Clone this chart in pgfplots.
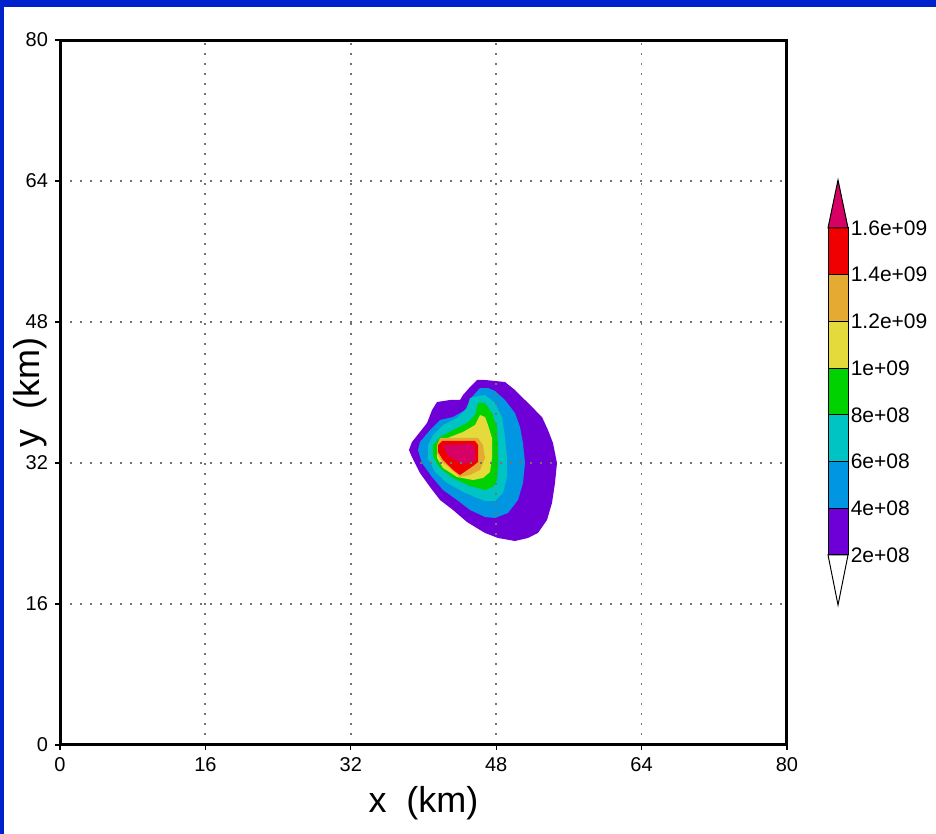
\documentclass[border=0pt]{standalone}
\usepackage{pgfplots}
\pgfplotsset{compat=1.18}
\usepackage{fontspec}
\setmainfont{Liberation Sans}

\definecolor{frameblue}{RGB}{0,34,204}
\definecolor{cmag}{RGB}{215,0,100}
\definecolor{cred}{RGB}{240,0,0}
\definecolor{corange}{RGB}{228,170,50}
\definecolor{cyellow}{RGB}{228,218,60}
\definecolor{cgreen}{RGB}{0,210,0}
\definecolor{ccyan}{RGB}{0,195,195}
\definecolor{cblue}{RGB}{0,150,225}
\definecolor{cpurple}{RGB}{110,0,215}

\begin{document}
\begin{tikzpicture}
\fill[white] (0,0) rectangle (468pt,417pt);
\fill[frameblue] (0,413.5pt) rectangle (468pt,417pt);
\fill[frameblue] (0,0) rectangle (2pt,417pt);

\begin{axis}[
    at={(30pt,44.5pt)}, anchor=south west,
    scale only axis, width=363.5pt, height=352.5pt,
    xmin=0, xmax=80, ymin=0, ymax=80,
    xtick={0,16,...,80}, ytick={0,16,...,80},
    xtick pos=left, ytick pos=left,
    tick align=outside, major tick length=2.5pt,
    tick style={black, line width=0.6pt},
    axis line style={line width=1.5pt},
    grid=major,
    grid style={black!55, line width=0.9pt, dash pattern=on 0.9pt off 4.1pt},
    axis on top,
    /pgf/number format/assume math mode=true,
    ticklabel style={font=\fontsize{10}{11}\selectfont},
    xlabel={x\ \ (km)}, ylabel={y\ \ (km)},
    label style={font=\fontsize{18}{20}\selectfont},
    xlabel style={at={(axis description cs:0.5,-0.082)}, anchor=center},
    ylabel style={at={(axis description cs:-0.041,0.5)}, anchor=center},
    mark=none,
]
% > 2e8
\addplot[fill=cpurple, draw=none] coordinates {
(45.89,41.42) (46.77,41.42) (48.97,41.19) (50.07,40.28) (51.50,38.81)
(53.04,37.22) (53.70,35.74) (54.25,34.27) (54.69,32.00) (54.47,29.73)
(54.14,27.46) (53.59,25.53) (52.60,24.06) (51.50,23.49) (50.07,23.15)
(48.20,23.49) (46.77,24.06) (46.22,24.40) (44.79,25.30) (43.25,26.67)
(41.82,27.80) (40.72,29.28) (39.61,30.87) (38.73,32.68) (38.40,33.48)
(38.73,34.38) (39.61,35.52) (40.39,36.54) (40.94,38.01) (41.49,38.92)
(42.92,39.15) (44.02,39.15) (44.35,39.72) (45.12,40.62)} -- cycle;
% > 4e8
\addplot[fill=cblue, draw=none] coordinates {
(46.22,40.51) (47.10,40.51) (47.87,40.17) (48.97,39.15) (50.07,37.67)
(50.62,36.09) (50.95,34.27) (51.17,32.00) (50.95,29.73) (50.40,27.80)
(49.30,26.33) (47.87,25.76) (46.77,25.87) (45.12,26.67) (43.69,27.80)
(42.15,28.94) (40.94,30.41) (39.83,32.00) (39.39,33.48) (39.61,34.38)
(40.72,35.74) (41.82,36.88) (43.25,37.22) (44.57,38.01) (45.34,39.49)} -- cycle;
% > 6e8
\addplot[fill=ccyan, draw=none] coordinates {
(45.12,39.38) (46.00,39.60) (46.77,39.72) (47.87,38.81) (48.64,37.22)
(48.97,34.95) (49.19,32.68) (49.19,30.41) (48.75,28.60) (47.87,27.69)
(46.77,27.69) (45.67,28.14) (44.35,28.71) (42.59,29.73) (41.27,30.98)
(40.50,32.57) (40.50,34.04) (41.05,35.18) (42.15,36.31) (43.69,37.11)
(44.79,38.24)} -- cycle;
% > 8e8
\addplot[fill=cgreen, draw=none] coordinates {
(46.00,38.81) (46.77,38.81) (47.54,37.67) (48.09,36.09) (48.20,33.82)
(48.20,31.55) (48.09,30.07) (47.65,29.28) (46.77,28.94) (45.12,29.39)
(43.25,30.30) (41.82,31.43) (41.05,32.68) (41.05,34.04) (41.82,34.95)
(43.25,35.74) (44.79,36.54) (45.67,37.45)} -- cycle;
% > 1e9
\addplot[fill=cyellow, draw=none] coordinates {
(46.22,37.45) (46.77,37.22) (47.10,36.31) (47.54,34.84) (47.54,32.57)
(47.32,30.98) (46.55,30.30) (45.45,30.07) (43.69,30.41) (42.15,31.43)
(41.49,32.57) (41.49,33.70) (41.82,34.38) (42.92,34.95) (44.35,35.52)
(45.67,36.31)} -- cycle;
% > 1.2e9
\addplot[fill=corange, draw=none] coordinates {
(41.82,34.84) (46.00,34.84) (46.55,34.04) (46.77,32.57) (46.22,31.21)
(45.12,30.64) (44.02,30.41) (42.92,31.43) (42.04,32.11) (41.49,33.13)
(41.49,34.04)} -- cycle;
% > 1.4e9
\addplot[fill=cred, draw=none] coordinates {
(42.04,34.50) (45.67,34.50) (46.00,34.04) (46.00,32.11) (45.45,31.66)
(44.02,30.64) (43.25,31.21) (42.15,32.34) (41.60,33.25) (41.60,34.04)} -- cycle;
% > 1.6e9
\addplot[fill=cmag, draw=none] coordinates {
(42.15,34.04) (45.12,34.16) (45.67,33.82) (45.67,32.23) (44.24,31.89)
(42.70,32.79)} -- cycle;
\end{axis}

\begin{axis}[
    at={(414pt,114.5pt)}, anchor=south west,
    scale only axis, width=10pt, height=212.5pt,
    xmin=0, xmax=1, ymin=-0.14, ymax=18.05,
    axis line style={draw=none},
    xtick=\empty,
    ytick={2,4,...,16},
    yticklabels={2e+08,4e+08,6e+08,8e+08,1e+09,1.2e+09,1.4e+09,1.6e+09},
    yticklabel pos=right, major tick length=0pt,
    yticklabel style={font=\fontsize{10.5}{11}\selectfont, inner sep=1.2pt, anchor=west},
    clip=false, mark=none,
]
\addplot[fill=white, draw=black, line width=0.5pt] coordinates {(0,2) (1,2) (0.5,-0.14)} -- cycle;
\addplot[fill=cpurple, draw=black, line width=0.5pt] coordinates {(0,2) (1,2) (1,4) (0,4)} -- cycle;
\addplot[fill=cblue, draw=black, line width=0.5pt] coordinates {(0,4) (1,4) (1,6) (0,6)} -- cycle;
\addplot[fill=ccyan, draw=black, line width=0.5pt] coordinates {(0,6) (1,6) (1,8) (0,8)} -- cycle;
\addplot[fill=cgreen, draw=black, line width=0.5pt] coordinates {(0,8) (1,8) (1,10) (0,10)} -- cycle;
\addplot[fill=cyellow, draw=black, line width=0.5pt] coordinates {(0,10) (1,10) (1,12) (0,12)} -- cycle;
\addplot[fill=corange, draw=black, line width=0.5pt] coordinates {(0,12) (1,12) (1,14) (0,14)} -- cycle;
\addplot[fill=cred, draw=black, line width=0.5pt] coordinates {(0,14) (1,14) (1,16) (0,16)} -- cycle;
\addplot[fill=cmag, draw=black, line width=0.5pt] coordinates {(0,16) (1,16) (0.5,18.05)} -- cycle;
\end{axis}

\pgfresetboundingbox
\path[use as bounding box] (0,0) rectangle (468pt,417pt);
\end{tikzpicture}
\end{document}
